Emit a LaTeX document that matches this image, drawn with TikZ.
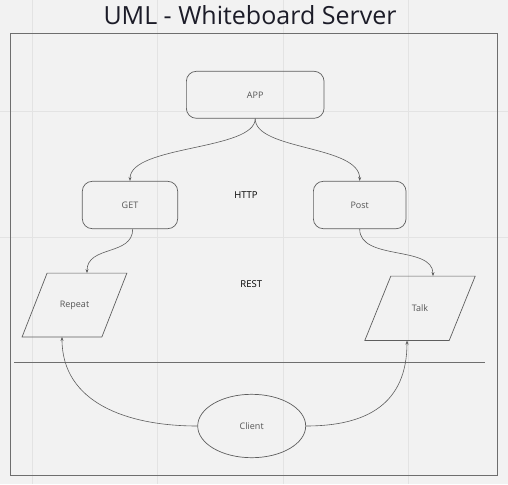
\documentclass[tikz,border=0pt]{standalone}
\usepackage{fontspec}
\setmainfont{Open Sans}
\usetikzlibrary{shapes.geometric,arrows.meta,calc}
\definecolor{bg}{HTML}{F2F2F2}
\definecolor{gridc}{HTML}{E3E3E3}
\definecolor{framec}{HTML}{6E6E6E}
\definecolor{edgec}{HTML}{5E5E5E}
\definecolor{txt}{HTML}{555555}
\definecolor{titlec}{HTML}{1C1C28}
\tikzset{
  box/.style={draw=edgec, line width=0.7pt, rounded corners=10pt, inner sep=0pt,
    font=\fontsize{9}{10}\selectfont, text=txt},
  parabox/.style={inner sep=0pt, font=\fontsize{9}{10}\selectfont, text=txt},
  paraline/.style={draw=edgec, line width=0.7pt},
  oval/.style={draw=edgec, line width=0.7pt, ellipse, inner sep=0pt,
    font=\fontsize{9}{10}\selectfont, text=txt},
  conn/.style={draw=edgec, line width=0.6pt, -{Stealth[length=4pt,width=3pt]}},
  lbl/.style={font=\fontsize{9.5}{11}\selectfont, text=black},
  gridline/.style={draw=gridc, line width=0.8pt},
}
\begin{document}
\begin{tikzpicture}[x=1pt,y=-1pt]
\fill[bg] (0,0) rectangle (508,484);
\useasboundingbox (0,0) rectangle (508,484);
% background grid
\foreach \gx in {32,157,283,408} \draw[gridline] (\gx,0) -- (\gx,484);
\foreach \gy in {111,237} \draw[gridline] (0,\gy) -- (508,\gy);
% title
\node[text=titlec, font=\fontsize{25}{30}\selectfont, inner sep=0pt] (title) at (250,15.5) {UML - Whiteboard Server};
% frame
\draw[framec, line width=1pt] (10.5,33.3) rectangle (497.7,475.7);
% separator
\draw[framec, line width=0.9pt] (14,362.7) -- (485,362.7);
% nodes
\node[box, minimum width=137.7pt, minimum height=47pt] (app) at (255.2,94.8) {APP};
\node[box, minimum width=95.4pt, minimum height=47.4pt] (get) at (130,205) {GET};
\node[box, minimum width=92.7pt, minimum height=47.4pt] (post) at (359.7,205) {Post};
\node[parabox, minimum width=104.4pt, minimum height=63.4pt] (rep) at (74.5,305) {Repeat};
\node[parabox, minimum width=110pt, minimum height=64pt] (talk) at (420,308.3) {Talk};
\node[oval, minimum width=108pt, minimum height=63.4pt] (client) at (251.7,426) {Client};
\node[lbl] (http) at (246,195.5) {HTTP};
\node[lbl] (rest) at (251.3,283.7) {REST};
% parallelogram outlines
\draw[paraline] ($(rep.north west)+(25,0)$) -- (rep.north east) -- ($(rep.south east)+(-25,0)$) -- (rep.south west) -- cycle;
\draw[paraline] ($(talk.north west)+(26,0)$) -- (talk.north east) -- ($(talk.south east)+(-26,0)$) -- (talk.south west) -- cycle;
\coordinate (reptop) at ($(rep.north)+(12.5,0)$);
\coordinate (repbot) at ($(rep.south)+(-12.5,0)$);
\coordinate (talktop) at ($(talk.north)+(13,0)$);
\coordinate (talkbot) at ($(talk.south)+(-13,0)$);
% connectors
\draw[conn] (app.south) .. controls +(0,32) and +(0,-36) .. (get.north);
\draw[conn] (app.south) .. controls +(0,32) and +(0,-36) .. (post.north);
\draw[conn] ([xshift=2.7pt]get.south) .. controls +(0,27) and +(0,-28) .. (reptop);
\draw[conn] (post.south) .. controls +(0,32) and +(0,-31) .. (talktop);
\draw[conn] (client.west) .. controls +(-70,0) and +(0,66) .. (repbot);
\draw[conn] (client.east) .. controls +(60,0) and +(0,64) .. (talkbot);
\end{tikzpicture}
\end{document}
